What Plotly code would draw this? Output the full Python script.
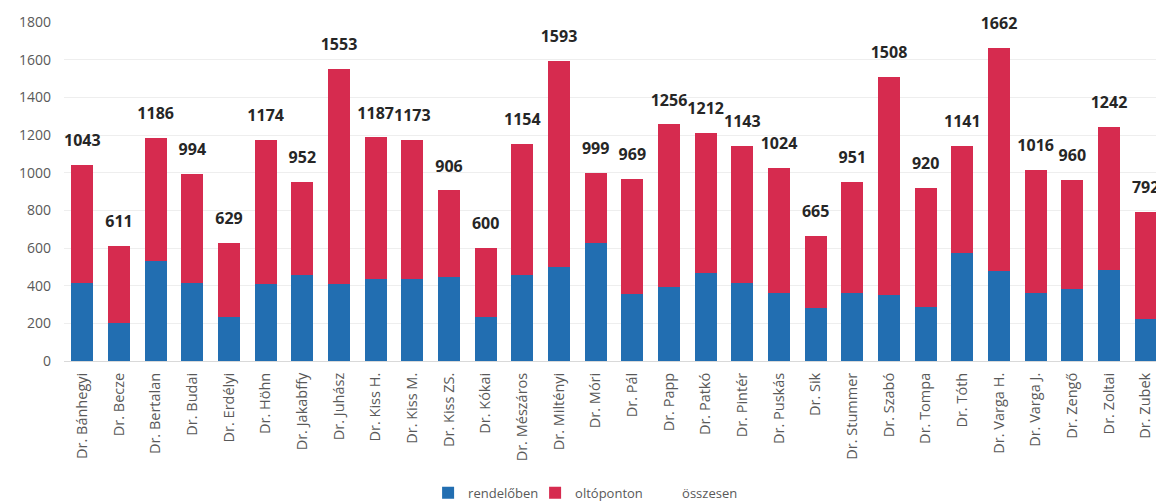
import plotly.graph_objects as go

doctors = ["Dr. Bánhegyi", "Dr. Becze", "Dr. Bertalan", "Dr. Budai", "Dr. Erdélyi",
           "Dr. Höhn", "Dr. Jakabffy", "Dr. Juhász", "Dr. Kiss H.", "Dr. Kiss M.",
           "Dr. Kiss ZS.", "Dr. Kókai", "Dr. Mészáros", "Dr. Miltényi", "Dr. Móri",
           "Dr. Pál", "Dr. Papp", "Dr. Patkó", "Dr. Pintér", "Dr. Puskás",
           "Dr. Sik", "Dr. Stummer", "Dr. Szabó", "Dr. Tompa", "Dr. Tóth",
           "Dr. Varga H.", "Dr. Varga J.", "Dr. Zengő", "Dr. Zoltai", "Dr. Zubek"]

totals = [1043, 611, 1186, 994, 629, 1174, 952, 1553, 1187, 1173,
          906, 600, 1154, 1593, 999, 969, 1256, 1212, 1143, 1024,
          665, 951, 1508, 920, 1141, 1662, 1016, 960, 1242, 792]

rendeloben = [415, 203, 530, 412, 235, 408, 455, 408, 437, 435,
              445, 235, 455, 500, 628, 355, 394, 468, 412, 360,
              280, 359, 350, 285, 571, 479, 359, 382, 483, 221]

oltoponton = [t - r for t, r in zip(totals, rendeloben)]

BLUE = "#226eb1"
RED = "#d62b4f"

fig = go.Figure()
fig.add_trace(go.Bar(x=doctors, y=rendeloben, name="rendelőben",
                     marker=dict(color=BLUE, line=dict(width=0))))
fig.add_trace(go.Bar(x=doctors, y=oltoponton, name="oltóponton",
                     marker=dict(color=RED, line=dict(width=0))))
fig.add_trace(go.Scatter(x=doctors, y=totals, name="összesen", mode="markers+text",
                         text=[str(t) for t in totals], textposition="top center",
                         textfont=dict(family="Open Sans", size=16, color="#262626", weight="bold"),
                         marker=dict(size=22, color="rgba(0,0,0,0)"), hoverinfo="skip",
                         cliponaxis=False))

fig.update_layout(
    width=1164, height=503,
    barmode="stack", bargap=0.4,
    paper_bgcolor="white", plot_bgcolor="white",
    margin=dict(l=56, r=8, t=14, b=150, autoexpand=False),
    font=dict(family="Open Sans", size=13, color="#595959"),
    showlegend=True,
    legend=dict(orientation="h", x=0.331, xanchor="left", y=-0.389, yanchor="middle",
                font=dict(size=13, color="#595959"), itemwidth=30,
                entrywidth=62, entrywidthmode="pixels", traceorder="normal"),
)
fig.update_xaxes(range=[-0.5, 29.5], tickangle=-90, showgrid=False,
                 showline=True, linecolor="#d9d9d9", ticks="", automargin=False,
                 ticklabeloverflow="allow", ticklabelstandoff=5,
                 tickfont=dict(size=14.5, color="#595959"))
fig.update_yaxes(range=[0, 1800], dtick=200, showgrid=True, gridcolor="#eeeeee",
                 zeroline=False, ticks="", automargin=False,
                 tickfont=dict(size=14, color="#595959"),
                 ticklabelstandoff=12)

fig.write_html("out.html")
